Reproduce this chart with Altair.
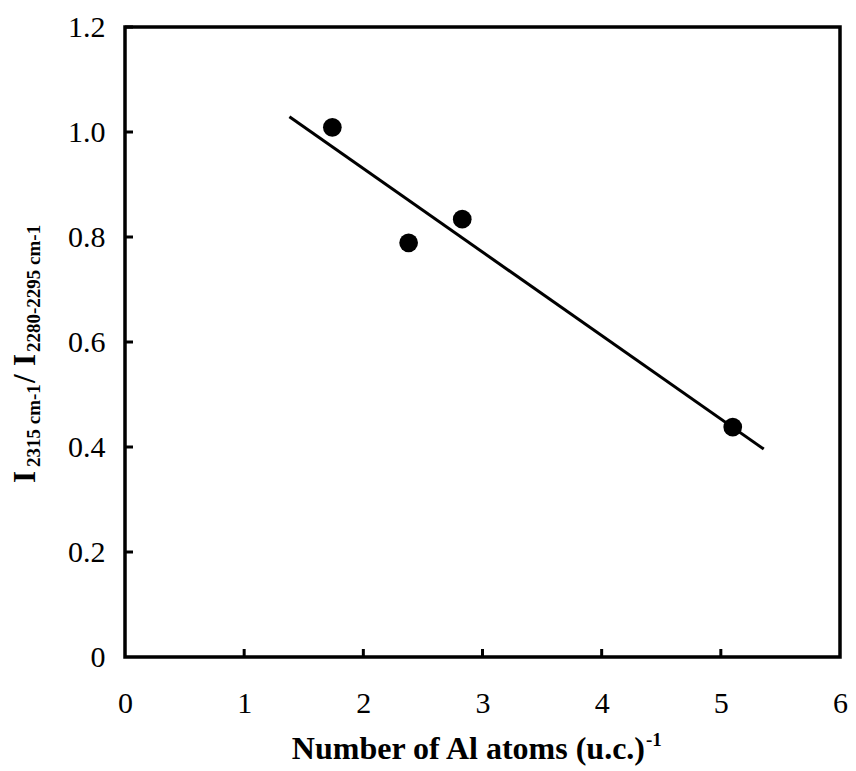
import altair as alt
import pandas as pd

# ---- data ----
al_atoms = [1.74, 2.38, 2.83, 5.10]
intensity_ratio = [1.009, 0.789, 0.834, 0.438]
fit_x = [1.38, 5.36]
fit_y = [1.029, 0.396]
x_ticks = [0, 1, 2, 3, 4, 5, 6]
y_ticks = [0, 0.2, 0.4, 0.6, 0.8, 1.0, 1.2]
x_inner_ticks = [1, 2, 3, 4, 5]
y_inner_ticks = [0.2, 0.4, 0.6, 0.8, 1.0, 1.2]

W, H = 715, 630
FONT = "Liberation Serif"

pts = pd.DataFrame({"x": al_atoms, "y": intensity_ratio})
fit = pd.DataFrame({"x": fit_x, "y": fit_y})

xs = alt.Scale(domain=[0, 6], nice=False, zero=False)
ys = alt.Scale(domain=[0, 1.2], nice=False)

xaxis = alt.Axis(values=x_ticks, title=None, grid=False, domain=False, ticks=False,
                 labelFont=FONT, labelFontSize=30, labelPadding=31, labelColor="black",
                 labelFlush=False, format="d")
yaxis = alt.Axis(values=y_ticks, title=None, grid=False, domain=False, ticks=False,
                 labelFont=FONT, labelFontSize=30, labelPadding=20, labelColor="black",
                 labelFlush=False,
                 labelExpr="datum.value == 0 ? '0' : format(datum.value, '.1f')")

points = alt.Chart(pts).mark_circle(size=350, color="black", opacity=1).encode(
    x=alt.X("x:Q", scale=xs, axis=xaxis),
    y=alt.Y("y:Q", scale=ys, axis=yaxis),
)
line = alt.Chart(fit).mark_line(color="black", strokeWidth=3).encode(
    x=alt.X("x:Q", scale=xs, axis=xaxis),
    y=alt.Y("y:Q", scale=ys, axis=yaxis),
)
xt = alt.Chart(pd.DataFrame({"x": x_inner_ticks})).mark_rule(color="black", strokeWidth=3).encode(
    x=alt.X("x:Q", scale=xs, axis=xaxis), y=alt.value(H), y2=alt.value(H - 8)
)
yt = alt.Chart(pd.DataFrame({"y": y_inner_ticks})).mark_rule(color="black", strokeWidth=3).encode(
    y=alt.Y("y:Q", scale=ys, axis=yaxis), x=alt.value(0), x2=alt.value(8)
)


def label(text, x, y, size, angle=0, align="left"):
    return alt.Chart(pd.DataFrame({"t": [text]})).mark_text(
        font=FONT, fontSize=size, fontWeight="bold", color="black",
        align=align, baseline="alphabetic", angle=angle,
    ).encode(text="t:N", x=alt.value(x), y=alt.value(y))


titles = [
    label("Number of Al atoms (u.c.)", 520, 732, 32, align="right"),
    label("-1", 521, 719, 19),
    label("I", -90, 456, 31, angle=270),
    label("2315 cm-1", -85, 440, 19, angle=270),
    label("/", -90, 356, 31, angle=270),
    label("I", -90, 339, 31, angle=270),
    label("2280-2295 cm-1", -85, 325, 19, angle=270),
]

chart = alt.layer(line, points, xt, yt, *titles).properties(
    width=W, height=H,
    padding={"left": 117, "top": 19, "right": 8, "bottom": 112},
    autosize="none",
).configure_view(stroke="black", strokeWidth=3.5)

chart.save("out.html", embed_options={"renderer": "svg", "actions": False})
